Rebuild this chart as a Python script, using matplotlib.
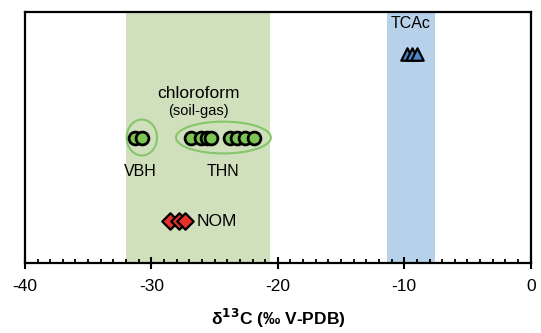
import matplotlib.pyplot as plt
from matplotlib.patches import Ellipse
from matplotlib.ticker import MultipleLocator

plt.rcParams['font.family'] = ['Liberation Sans', 'DejaVu Sans']
plt.rcParams['axes.unicode_minus'] = False

# d13C values (per mil V-PDB)
vbh_x = [-31.3, -30.7]
thn_x = [-26.9, -26.1, -25.6, -25.3, -23.8, -23.2, -22.6, -21.9]
nom_x = [-28.5, -27.8, -27.3]
tcac_x = [-9.8, -9.4, -9.0]

# row levels (arbitrary y)
nom_y = 1
chl_y = 3
tcac_y = 5

# shaded ranges
chl_range = (-32.0, -20.6)
tcac_range = (-11.4, -7.6)

fig = plt.figure(figsize=(5.41, 3.33), dpi=100)
ax = fig.add_axes([0.046, 0.21, 0.935, 0.754])

ax.axvspan(*chl_range, color='#d0e0bd', lw=0, zorder=0)
ax.axvspan(*tcac_range, color='#b7d1ea', lw=0, zorder=0)

# group ellipses
ax.add_patch(Ellipse((-30.75, chl_y), 2.4, 0.86, fill=False, ec='#86c66a', lw=1.5, zorder=1))
ax.add_patch(Ellipse((-24.3, chl_y), 7.5, 0.76, fill=False, ec='#86c66a', lw=1.5, zorder=1))

ax.scatter(vbh_x, [chl_y] * len(vbh_x), s=85, c='#7cc552', edgecolors='black', linewidths=2, zorder=3)
ax.scatter(thn_x, [chl_y] * len(thn_x), s=85, c='#7cc552', edgecolors='black', linewidths=2, zorder=3)
ax.scatter(nom_x, [nom_y] * len(nom_x), s=70, marker='D', c='#e8302a', edgecolors='black', linewidths=1.6, zorder=3)
ax.scatter(tcac_x, [tcac_y] * len(tcac_x), s=80, marker='^', c='#4a86c8', edgecolors='black', linewidths=1.6, zorder=3)

# labels
ax.text(-26.3, 4.05, 'chloroform', ha='center', va='center', fontsize=12.5)
ax.text(-26.3, 3.63, '(soil-gas)', ha='center', va='center', fontsize=10.5)
ax.text(-30.9, 2.18, 'VBH', ha='center', va='center', fontsize=11.5)
ax.text(-24.3, 2.18, 'THN', ha='center', va='center', fontsize=11.5)
ax.text(-26.4, nom_y, 'NOM', ha='left', va='center', fontsize=12.5)
ax.text(-9.5, 5.9, 'TCAc', ha='center', va='top', fontsize=11.5)

ax.set_xlim(-40, 0)
ax.set_ylim(0, 6)
ax.set_yticks([])
ax.xaxis.set_major_locator(MultipleLocator(10))
ax.xaxis.set_minor_locator(MultipleLocator(1))
ax.tick_params(axis='x', which='major', direction='inout', length=9, width=1.5, labelsize=12.5, pad=7)
ax.tick_params(axis='x', which='minor', direction='in', length=3, width=1.3)
for s in ax.spines.values():
    s.set_linewidth(1.6)

ax.set_xlabel('δ$^{\\mathbf{13}}$C (‰ V-PDB)', fontsize=12.5, fontweight='bold', labelpad=9)

fig.savefig('out.png', dpi=100)
